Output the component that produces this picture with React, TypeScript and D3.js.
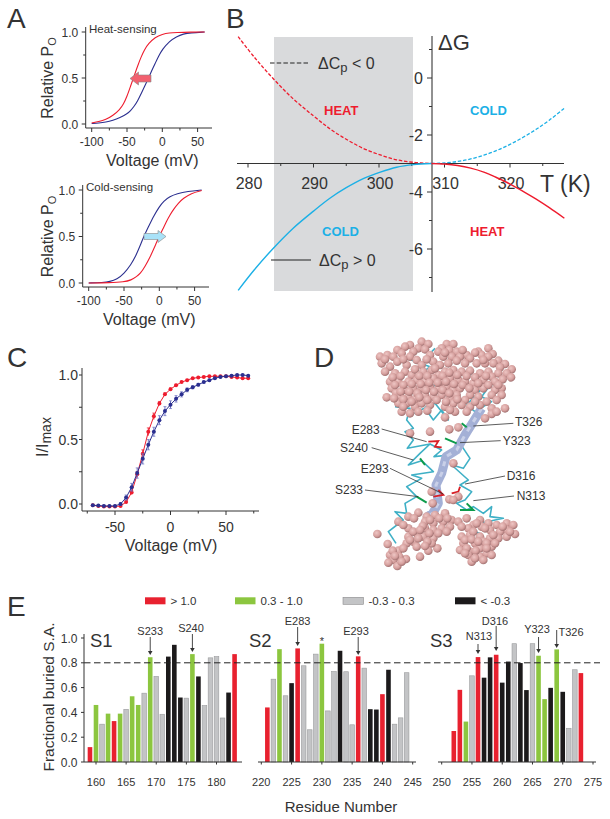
import React from "react";
import * as d3 from "d3";

const FONT = "'Liberation Sans', Arial, sans-serif";
const INK = "#333";
const RED = "#ee1c2e";
const NAVY = "#2b2f8f";
const CYAN = "#1cb0e6";

// Panel A
const heatRedV = [-100,-90,-80,-70,-60,-55,-50,-45,-40,-35,-30,-25,-20,-10,0,10,20,40,60];
const heatRedP = [.012,.025,.048,.09,.16,.215,.30,.41,.52,.63,.73,.81,.87,.945,.975,.99,.995,1,1];
const heatBlueV = [-100,-90,-80,-70,-60,-50,-45,-40,-35,-30,-25,-20,-15,-10,-5,0,10,20,30,40,60];
const heatBlueP = [.005,.01,.02,.04,.07,.11,.145,.19,.25,.33,.41,.49,.58,.66,.74,.81,.90,.95,.98,.99,1];
const coldBlueV = [-100,-80,-70,-60,-50,-40,-34,-28,-22,-15,-8,0,6,15,25,40,60];
const coldBlueP = [0,.005,.015,.04,.1,.2,.28,.385,.5,.61,.72,.82,.88,.93,.96,.985,1];
const coldRedV = [-100,-70,-50,-40,-32,-27,-20,-13,-7,-1,5,10,15,20,27,34,45,60];
const coldRedP = [0,.003,.012,.03,.07,.1,.18,.28,.38,.49,.58,.66,.73,.79,.86,.91,.965,.995];
const voltTicksA = [-100,-75,-50,-25,0,25,50];
const voltLabelsA = [-100,-50,0,50];
const poTicks = [0,.25,.5,.75,1];
const poLabels = [0,.5,1];

// Panel B
const dgLeftT = [278.5,281,283.8,286.9,290,292.5,295,297.6,300.2,302.7,305.3,308];
const dgLeftUp = [1.45,.72,-.01,-.73,-1.33,-1.78,-2.15,-2.47,-2.7,-2.87,-2.96,-3];
const dgLeftDown = [-7.45,-6.72,-5.99,-5.27,-4.67,-4.22,-3.85,-3.53,-3.3,-3.13,-3.04,-3];
const dgRightT = [308,310,312,314,316,318,320,322,324,326,328.3];
const dgRightUp = [-3,-2.98,-2.93,-2.84,-2.71,-2.54,-2.33,-2.08,-1.8,-1.48,-1.06];
const dgRightDown = [-3,-3.02,-3.07,-3.16,-3.3,-3.5,-3.72,-3.98,-4.25,-4.55,-4.92];
const tempTicks = [280,285,290,295,300,305,310,315,320,325];
const tempLabels = [280,290,300,310,320];
const dgTicks = [1,0,-1,-2,-3,-4,-5,-6,-7];
const dgLabels = [0,-2,-4,-6];

// Panel C
const iVolt = [-70,-65,-60,-55,-50,-45,-40,-35,-30,-25,-20,-15,-10,-5,0,5,10,15,20,25,30,35,40,45,50,55,60,65,70];
const iRed = [-.01,-.015,-.02,-.02,-.02,-.015,.015,.09,.23,.39,.56,.68,.78,.85,.89,.92,.945,.96,.975,.98,.985,.99,.99,.99,.99,.985,.98,.975,.975];
const iRedErr = [.005,.005,.005,.005,.005,.008,.01,.015,.02,.03,.03,.025,.015,.012,.01,.008,.006,.006,.005,.005,.005,.005,.005,.005,.005,.005,.005,.005,.008];
const iBlue = [-.01,-.012,-.015,-.015,-.015,0,.05,.13,.24,.35,.46,.56,.65,.72,.77,.815,.85,.885,.905,.925,.945,.96,.975,.985,.99,.995,1,1,.995];
const iBlueErr = [.005,.005,.005,.005,.005,.01,.02,.03,.04,.04,.04,.035,.035,.035,.03,.025,.02,.015,.012,.01,.008,.008,.006,.006,.005,.005,.005,.005,.005];
const iXTicks = [-75,-50,-25,0,25,50,75];
const iXLabels = [-50,0,50];
const iYTicks = [0,.25,.5,.75,1];

// Panel D, read in units of a 720-wide crop
const spheres: [number, number][] = [
[335,5],[355,12],[300,15],[285,20],[325,25],[345,28],[410,12],[430,12],[395,25],[418,30],[262,30],[275,40],[310,35],[385,35],[440,35],[470,45],[505,35],[515,45],[535,25],[548,42],[495,38],[210,50],[232,45],[250,50],[300,50],[360,45],[400,50],[425,50],[450,50],[480,55],[535,50],[565,62],
[215,70],[240,80],[262,65],[290,75],[320,60],[335,75],[370,65],[390,75],[415,70],[440,62],[465,70],[500,70],[525,70],[550,70],[585,72],[605,88],[570,82],
[225,95],[255,100],[285,95],[305,105],[340,95],[365,90],[385,105],[405,95],[430,90],[455,95],[480,92],[510,100],[535,95],[565,100],[590,100],[603,112],[545,110],
[240,125],[265,125],[295,125],[320,120],[345,125],[370,115],[395,125],[420,115],[445,120],[465,125],[490,130],[520,120],[555,125],[520,145],[575,145],[555,150],
[245,145],[258,158],[285,150],[310,145],[335,145],[360,140],[385,145],[410,140],[430,150],[450,145],[495,150],[480,165],[505,170],[545,165],[230,172],[270,170],[295,170],[315,178],[345,165],[370,170],[395,165],[420,175],[440,165],[465,180],[575,165],
[265,190],[290,190],[315,200],[335,190],[360,195],[405,200],[430,190],[455,195],[480,200],[510,195],[545,205],[585,205],[275,215],[300,220],[435,215],[405,232],[525,235],[545,222],[560,215],
[360,275],[418,268],[445,262],[300,280],[430,370],[368,490],[418,478],[445,470],[430,480],[365,455],
[202,582],[233,612],[265,632],[240,645],[288,657],[250,660],[262,678],[235,668],[268,650],[295,530],[325,518],[350,530],[375,525],[405,520],[265,545],[295,565],[345,545],[370,550],[400,545],[425,540],[445,545],[295,590],[320,580],[345,565],[370,570],[395,565],[420,560],[310,605],[340,590],[370,595],[290,610],[320,620],[355,632],[382,625],[330,650],[365,610],
[470,535],[510,540],[535,550],[560,555],[590,550],[610,555],[615,582],[590,570],[570,575],[540,570],[515,560],[490,555],[475,565],[455,590],[480,585],[510,590],[540,595],[565,595],[590,590],[460,610],[495,610],[520,605],[450,630],[480,635],[510,625],[545,620],[475,645],[510,650],[530,640],[545,645],[485,665],[455,560],
// denser fill
[280,58],[315,88],[350,58],[405,38],[458,30],[520,60],[225,58],[248,112],[272,108],[328,108],[352,108],[375,85],[398,108],[418,98],[442,105],[470,108],[495,112],[528,108],[578,118],
[255,135],[280,135],[305,132],[332,132],[358,128],[383,128],[408,125],[432,132],[458,135],[478,145],[505,130],[535,135],[565,135],[272,155],[298,155],[322,160],[348,150],[372,155],[398,150],[418,160],[442,178],
[280,178],[305,185],[328,172],[352,180],[380,180],[408,185],[252,175],[495,185],[530,185],[560,180],[325,215],[352,212],[420,210],[470,215],[280,200],
[312,535],[338,558],[360,540],[388,535],[412,535],[280,555],[310,575],[330,570],[358,580],[385,580],[410,575],[300,600],[325,595],[352,605],[280,625],[345,618],[248,632],[275,665],[255,648],
[500,550],[525,565],[550,585],[578,560],[600,575],[490,575],[465,600],[485,598],[505,605],[530,610],[555,610],[470,625],[497,632],[530,625],[465,640],[495,655],[520,660],
];
const backbones: [number, number][][] = [
[[255,200],[300,205],[290,240],[310,265],[285,275],[310,300],[292,325],[360,312],[330,340],[295,375],[335,362],[370,395],[305,405],[335,415],[290,440],[320,470],[285,490],[290,520],[255,515],[280,540],[235,575],[258,610]],
[[290,55],[360,80],[310,120],[385,140],[345,205],[370,240],[395,210],[415,240],[375,190],[300,225]],
[[375,25],[340,60],[430,100],[510,105],[540,135],[515,170],[545,185],[495,215],[470,195],[530,130]],
[[450,310],[480,355],[460,385],[425,375],[475,420],[450,435],[485,455],[465,480],[440,490],[470,510],[490,500],[520,520],[545,500],[540,530],[580,535],[510,550],[470,570],[510,580]],
[[360,312],[395,330],[372,350],[420,345],[450,310]],
];
const ribbon: [number, number][] = [[515,205],[490,245],[465,285],[440,330],[408,350],[395,400],[378,435],[385,490],[368,520],[345,535]];
const redSticks: [number, number][][] = [[[355,305],[385,303],[375,320],[395,322]],[[370,470],[400,465],[385,450]],[[425,460],[445,455],[450,440]]];
const greenSticks: [number, number][][] = [[[405,295],[440,310]],[[455,250],[470,262]],[[330,355],[345,375]],[[320,470],[350,488]],[[470,490],[490,510],[450,510]]];
const dLabels = ["T326","Y323","D316","N313","E283","S240","E293","S233"];
const dLabelX = [615,578,590,620,125,90,152,75];
const dLabelY = [258,315,420,480,282,335,400,462];
const dLeaders: number[][] = [[610,250,490,258],[572,302,450,308],[585,408,465,432],[612,468,490,482],[215,267,350,305],[185,323,310,360],[240,385,400,462],[165,450,325,470]];

// Panel E
const CLASS = { r: "#e8212f", g: "#8cc63f", a: "#c3c4c6", k: "#1c1a1b" } as const;
const s1Res = d3.range(159, 184);
const s1Val = [.12,.46,.305,.39,.33,.39,.425,.53,.46,.555,.845,.69,.385,.85,.945,.52,.515,.87,.69,.455,.84,.85,.355,.56,.87];
const s1Cls = "rgagrgaggagaakkkagkaaaakr";
const s2Res = d3.range(221, 245);
const s2Val = [.44,.668,.91,.534,.636,.916,.776,.26,.87,.954,.412,.73,.897,.728,.30,.852,.757,.426,.423,.547,.744,.305,.356,.72];
const s2Cls = "ragakraaagaakaarakkrkaaa";
const s3Res = d3.range(252, 274);
const s3Val = [.25,.582,.326,.695,.846,.68,.844,.865,.64,.81,.954,.798,.58,.954,.857,.507,.598,.908,.566,.272,.744,.717];
const s3Cls = "rrgarkkrkkakkaggkgkaar";
const fracTicks = [0,.2,.4,.6,.8,1];
const s1Ticks = [160,165,170,175,180];
const s2Ticks = [220,225,230,235,240,245];
const s3Ticks = [250,255,260,265,270,275];
const legendText = ["> 1.0","0.3 - 1.0","-0.3 - 0.3","< -0.3"];
const legendCls = ["r","g","a","k"] as const;
const legendX = [145,235,343,455];

type Pt = [number, number];
const zipPts = (a: number[], b: number[]): Pt[] => a.map((v, i) => [v, b[i]]);

function T(p: any) {
  return <text fontFamily={FONT} fill={INK} {...p} />;
}

function Sigmoid({ x0, y1, y0, axisY, axisX, axisEnd, zero, title, titleX, r, b, shiftArrow }: any) {
  const x = d3.scaleLinear().domain([0, 50]).range([zero, zero + 35.3]);
  const y = d3.scaleLinear().domain([0, 1]).range([y0, y1]);
  const line = d3.line<Pt>().x(d => x(d[0])).y(d => y(d[1])).curve(d3.curveBasis);
  return (
    <g>
      <path d={`M${axisX} ${y1 - 5}V${axisY}H${axisEnd}`} fill="none" stroke={INK} strokeWidth={1} />
      {poTicks.map(t => <line key={t} x1={axisX} x2={axisX - (poLabels.includes(t) ? 4 : 2.5)} y1={y(t)} y2={y(t)} stroke={INK} />)}
      {voltTicksA.map(t => <line key={t} x1={x(t)} x2={x(t)} y1={axisY} y2={axisY + (voltLabelsA.includes(t) ? 4 : 2.5)} stroke={INK} />)}
      {poLabels.map(t => <T key={t} x={axisX - 7.5} y={y(t) + 4.5} fontSize={12} textAnchor="end">{t.toFixed(1)}</T>)}
      {voltLabelsA.map(t => <T key={t} x={x(t)} y={axisY + 18} fontSize={12} textAnchor="middle">{t}</T>)}
      <T x={x0} y={(y0 + y1) / 2} fontSize={16} textAnchor="middle" transform={`rotate(-90 ${x0} ${(y0 + y1) / 2})`}>Relative P<tspan fontSize={11} dy={3}>O</tspan></T>
      <T x={x(0) - 10} y={axisY + 38} fontSize={16} textAnchor="middle">Voltage (mV)</T>
      <T x={titleX} y={y1 + 1} fontSize={11.5}>{title}</T>
      <path d={line(b)!} fill="none" stroke={NAVY} strokeWidth={1.1} />
      <path d={line(r)!} fill="none" stroke={RED} strokeWidth={1.1} />
      {shiftArrow}
    </g>
  );
}

function BarGroup({ res, val, cls, xs, y }: any) {
  return (
    <g>
      {res.map((r: number, i: number) => {
        const c = cls[i] as keyof typeof CLASS;
        return <rect key={r} x={xs(r) - 2.3} width={4.6} y={y(val[i])} height={y(0) - y(val[i])} fill={CLASS[c]}
          stroke={c === "a" ? "#9a9b9d" : "none"} strokeWidth={0.6} />;
      })}
    </g>
  );
}

function ResAxis({ ticks, xs, y0, from, to }: any) {
  return (
    <g>
      <line x1={from} x2={to} y1={y0} y2={y0} stroke={INK} />
      {ticks.map((t: number) => (
        <g key={t}>
          <line x1={xs(t)} x2={xs(t)} y1={y0} y2={y0 + 2.5} stroke={INK} />
          <T x={xs(t)} y={y0 + 24} fontSize={11} textAnchor="middle">{t}</T>
        </g>
      ))}
    </g>
  );
}

function DownArrow({ x, y1, y2, label, lx, ly }: any) {
  return (
    <g>
      {label && <T x={lx ?? x} y={ly} fontSize={11} textAnchor="middle">{label}</T>}
      <line x1={x} x2={x} y1={y1} y2={y2 - 3} stroke={INK} strokeWidth={0.9} />
      <path d={`M${x - 2.3} ${y2 - 4}L${x + 2.3} ${y2 - 4}L${x} ${y2}Z`} fill={INK} />
    </g>
  );
}

export default function App() {
  // B
  const bx = d3.scaleLinear().domain([280, 320]).range([248, 510]);
  const by = d3.scaleLinear().domain([0, -6]).range([78, 249]);
  const bLine = d3.line<Pt>().x(d => bx(d[0])).y(d => by(d[1])).curve(d3.curveCatmullRom);
  // C
  const cx = d3.scaleLinear().domain([-50, 50]).range([115, 226]);
  const cy = d3.scaleLinear().domain([0, 1]).range([504, 375]);
  const cLine = d3.line<Pt>().x(d => cx(d[0])).y(d => cy(d[1]));
  // D
  const dx = d3.scaleLinear().domain([0, 720]).range([310, 550]);
  const dy = d3.scaleLinear().domain([0, 720]).range([340, 580]);
  const dLine = d3.line<Pt>().x(d => dx(d[0])).y(d => dy(d[1]));
  // E
  const ey = d3.scaleLinear().domain([0, 1]).range([762, 638]);
  const x1 = d3.scaleLinear().domain([160, 180]).range([96, 216.5]);
  const x2 = d3.scaleLinear().domain([220, 245]).range([261.3, 412.7]);
  const x3 = d3.scaleLinear().domain([250, 275]).range([441.7, 593]);

  return (
    <svg width={610} height={819} viewBox="0 0 610 819" style={{ position: "absolute", left: 0, top: 0, background: "#fff" }}>
      <defs>
        <radialGradient id="ball" cx="40%" cy="36%" r="68%">
          <stop offset="0%" stopColor="#eec6c4" />
          <stop offset="60%" stopColor="#d6a09e" />
          <stop offset="100%" stopColor="#9a6a6a" />
        </radialGradient>
      </defs>
      <T x={7} y={28} fontSize={28}>A</T>
      <T x={226} y={28} fontSize={28}>B</T>
      <T x={7} y={367} fontSize={28}>C</T>
      <T x={314} y={367} fontSize={28}>D</T>
      <T x={7} y={616} fontSize={28}>E</T>

      {/* A */}
      <Sigmoid x0={53} y1={32} y0={124} axisY={128} axisX={85.7} axisEnd={212} zero={162.3} title="Heat-sensing" titleX={89}
        r={zipPts(heatRedV, heatRedP)} b={zipPts(heatBlueV, heatBlueP)}
        shiftArrow={<path d="M151 75H138.5V72L130 78.5L138.5 85V82H151Z" fill="#f2606f" stroke="#888" strokeWidth={0.6} />} />
      <Sigmoid x0={53} y1={190} y0={283} axisY={287} axisX={82.7} axisEnd={209} zero={159.3} title="Cold-sensing" titleX={86}
        r={zipPts(coldRedV, coldRedP)} b={zipPts(coldBlueV, coldBlueP)}
        shiftArrow={<path d="M144 233.5H158V230.5L166 236.5L158 242.5V239.5H144Z" fill="#a9e2f8" stroke="#888" strokeWidth={0.6} />} />

      {/* B */}
      <rect x={274} y={37} width={139} height={254} fill="#d9dadc" />
      <line x1={237} x2={564} y1={by(-3)} y2={by(-3)} stroke={INK} strokeWidth={1} />
      <line x1={432} x2={432} y1={36} y2={292} stroke="#222" strokeWidth={1} />
      {tempTicks.map(t => <line key={t} x1={bx(t)} x2={bx(t)} y1={by(-3)} y2={by(-3) + (tempLabels.includes(t) ? 4 : 2.5)} stroke={INK} />)}
      {dgTicks.map(t => <line key={t} x1={432} x2={dgLabels.includes(t) ? 427 : 429} y1={by(t)} y2={by(t)} stroke={INK} />)}
      {tempLabels.map(t => <T key={t} x={bx(t) + 1} y={189} fontSize={16} textAnchor="middle">{t}</T>)}
      {dgLabels.map(t => <T key={t} x={423} y={by(t) + 6} fontSize={16} textAnchor="end">{t}</T>)}
      <T x={438} y={50} fontSize={22}>ΔG</T>
      <T x={540} y={192} fontSize={23}>T (K)</T>
      <path d={bLine(zipPts(dgLeftT, dgLeftUp))!} fill="none" stroke={RED} strokeWidth={1.3} strokeDasharray="3.5 1.8" />
      <path d={bLine(zipPts(dgRightT, dgRightUp))!} fill="none" stroke={CYAN} strokeWidth={1.3} strokeDasharray="3.5 1.8" />
      <path d={bLine(zipPts(dgLeftT, dgLeftDown))!} fill="none" stroke={CYAN} strokeWidth={1.4} />
      <path d={bLine(zipPts(dgRightT, dgRightDown))!} fill="none" stroke={RED} strokeWidth={1.4} />
      <T x={324} y={115} fontSize={13} fontWeight="bold" fill={RED}>HEAT</T>
      <T x={470} y={115} fontSize={13} fontWeight="bold" fill={CYAN}>COLD</T>
      <T x={322} y={236} fontSize={13} fontWeight="bold" fill={CYAN}>COLD</T>
      <T x={470} y={236} fontSize={13} fontWeight="bold" fill={RED}>HEAT</T>
      <line x1={270} x2={310} y1={63} y2={63} stroke="#222" strokeDasharray="4.5 2.2" strokeWidth={1.1} />
      <line x1={271} x2={311} y1={260} y2={260} stroke="#222" strokeWidth={1.2} />
      <T x={318} y={69} fontSize={16}>ΔC<tspan fontSize={13} dy={3}>p</tspan><tspan dy={-3}> &lt; 0</tspan></T>
      <T x={319} y={266} fontSize={16}>ΔC<tspan fontSize={13} dy={3}>p</tspan><tspan dy={-3}> &gt; 0</tspan></T>

      {/* C */}
      <path d="M82 368V511H259" fill="none" stroke={INK} strokeWidth={1} />
      {iXTicks.map(t => <line key={t} x1={cx(t)} x2={cx(t)} y1={511} y2={511 + (iXLabels.includes(t) ? 4 : 2.5)} stroke={INK} />)}
      {iYTicks.map(t => <line key={t} x1={82} x2={79} y1={cy(t)} y2={cy(t)} stroke={INK} />)}
      {iXLabels.map(t => <T key={t} x={cx(t)} y={532} fontSize={14} textAnchor="middle">{t}</T>)}
      {[0, .5, 1].map(t => <T key={t} x={78} y={cy(t) + 5} fontSize={14} textAnchor="end">{t.toFixed(1)}</T>)}
      <T x={171} y={551} fontSize={16} textAnchor="middle">Voltage (mV)</T>
      <T x={48} y={437} fontSize={16} textAnchor="middle" transform="rotate(-90 48 437)">I/I<tspan fontSize={14} dy={3}>max</tspan></T>
      <path d={cLine(zipPts(iVolt, iRed))!} fill="none" stroke={RED} strokeWidth={1} />
      {iVolt.map((v, i) => (
        <g key={v}>
          <line x1={cx(v)} x2={cx(v)} y1={cy(iRed[i] - iRedErr[i])} y2={cy(iRed[i] + iRedErr[i])} stroke={RED} />
          <line x1={cx(v) - 1.5} x2={cx(v) + 1.5} y1={cy(iRed[i] + iRedErr[i])} y2={cy(iRed[i] + iRedErr[i])} stroke={RED} strokeWidth={0.7} />
          <circle cx={cx(v)} cy={cy(iRed[i])} r={2} fill={RED} />
        </g>
      ))}
      <path d={cLine(zipPts(iVolt, iBlue))!} fill="none" stroke={NAVY} strokeWidth={1} />
      {iVolt.map((v, i) => (
        <g key={v}>
          <line x1={cx(v)} x2={cx(v)} y1={cy(iBlue[i] - iBlueErr[i])} y2={cy(iBlue[i] + iBlueErr[i])} stroke="#6a6ec0" />
          <line x1={cx(v) - 1.5} x2={cx(v) + 1.5} y1={cy(iBlue[i] - iBlueErr[i])} y2={cy(iBlue[i] - iBlueErr[i])} stroke="#6a6ec0" strokeWidth={0.7} />
          <line x1={cx(v) - 1.5} x2={cx(v) + 1.5} y1={cy(iBlue[i] + iBlueErr[i])} y2={cy(iBlue[i] + iBlueErr[i])} stroke="#6a6ec0" strokeWidth={0.7} />
          <circle cx={cx(v)} cy={cy(iBlue[i])} r={2} fill={NAVY} />
        </g>
      ))}

      {/* D */}
      {backbones.map((b, i) => <path key={i} d={dLine(b)!} fill="none" stroke="#3fb0c6" strokeWidth={1.6} strokeLinejoin="round" />)}
      <path d={dLine(ribbon)!} fill="none" stroke="#a4b0d6" strokeWidth={9} strokeLinejoin="round" />
      <path d={dLine(ribbon)!} fill="none" stroke="#c9d0e8" strokeWidth={3} strokeDasharray="5 6" />
      {redSticks.map((b, i) => <path key={i} d={dLine(b)!} fill="none" stroke="#d81f26" strokeWidth={1.8} />)}
      {greenSticks.map((b, i) => <path key={i} d={dLine(b)!} fill="none" stroke="#0d9b4a" strokeWidth={2} />)}
      {spheres.map((s, i) => <circle key={i} cx={dx(s[0])} cy={dy(s[1])} r={4.3} fill="url(#ball)" />)}
      {dLeaders.map((l, i) => <line key={i} x1={dx(l[0])} y1={dy(l[1])} x2={dx(l[2])} y2={dy(l[3])} stroke={INK} strokeWidth={0.8} />)}
      {dLabels.map((t, i) => <T key={t} x={dx(dLabelX[i])} y={dy(dLabelY[i])} fontSize={12}>{t}</T>)}

      {/* E */}
      {legendText.map((t, i) => (
        <g key={t}>
          <rect x={legendX[i]} y={597.3} width={20.5} height={7} fill={CLASS[legendCls[i]]} stroke={legendCls[i] === "a" ? "#8a8b8d" : "none"} strokeWidth={0.6} />
          <T x={legendX[i] + 25.5} y={605} fontSize={11.5}>{t}</T>
        </g>
      ))}
      <BarGroup res={s1Res} val={s1Val} cls={s1Cls} xs={x1} y={ey} />
      <BarGroup res={s2Res} val={s2Val} cls={s2Cls} xs={x2} y={ey} />
      <BarGroup res={s3Res} val={s3Val} cls={s3Cls} xs={x3} y={ey} />
      <line x1={84} x2={600} y1={ey(.8)} y2={ey(.8)} stroke="#222" strokeDasharray="6.5 3.5" strokeWidth={1} />
      <line x1={84} x2={84} y1={634} y2={762} stroke={INK} />
      {fracTicks.map(t => <line key={t} x1={84} x2={81} y1={ey(t)} y2={ey(t)} stroke={INK} />)}
      {fracTicks.map(t => <T key={t} x={77.5} y={ey(t) + 4.5} fontSize={12} textAnchor="end">{t.toFixed(1)}</T>)}
      <ResAxis ticks={s1Ticks} xs={x1} y0={762} from={84} to={242} />
      <ResAxis ticks={s2Ticks} xs={x2} y0={762} from={258} to={416} />
      <ResAxis ticks={s3Ticks} xs={x3} y0={762} from={438} to={596} />
      <T x={54} y={697} fontSize={15.5} textAnchor="middle" transform="rotate(-90 54 697)">Fractional buried S.A.</T>
      <T x={341} y={812} fontSize={15} textAnchor="middle">Residue Number</T>
      <T x={90} y={647} fontSize={18.5}>S1</T>
      <T x={249} y={647} fontSize={18.5}>S2</T>
      <T x={430} y={647} fontSize={18.5}>S3</T>
      <DownArrow x={x1(169)} y1={637} y2={655} label="S233" ly={635} />
      <DownArrow x={x1(176)} y1={634} y2={652} label="S240" lx={191} ly={632} />
      <DownArrow x={x2(226)} y1={627} y2={646} label="E283" ly={625} />
      <T x={x2(230)} y={645} fontSize={11} textAnchor="middle">*</T>
      <DownArrow x={x2(236)} y1={637} y2={655} label="E293" lx={356} ly={635} />
      <DownArrow x={x3(256)} y1={644} y2={654} label="N313" lx={479} ly={640} />
      <DownArrow x={x3(259)} y1={626} y2={651} label="D316" lx={495} ly={625} />
      <DownArrow x={x3(266)} y1={637} y2={653} label="Y323" lx={537} ly={633} />
      <DownArrow x={x3(269)} y1={630} y2={648} label="T326" lx={571} ly={636} />
    </svg>
  );
}
